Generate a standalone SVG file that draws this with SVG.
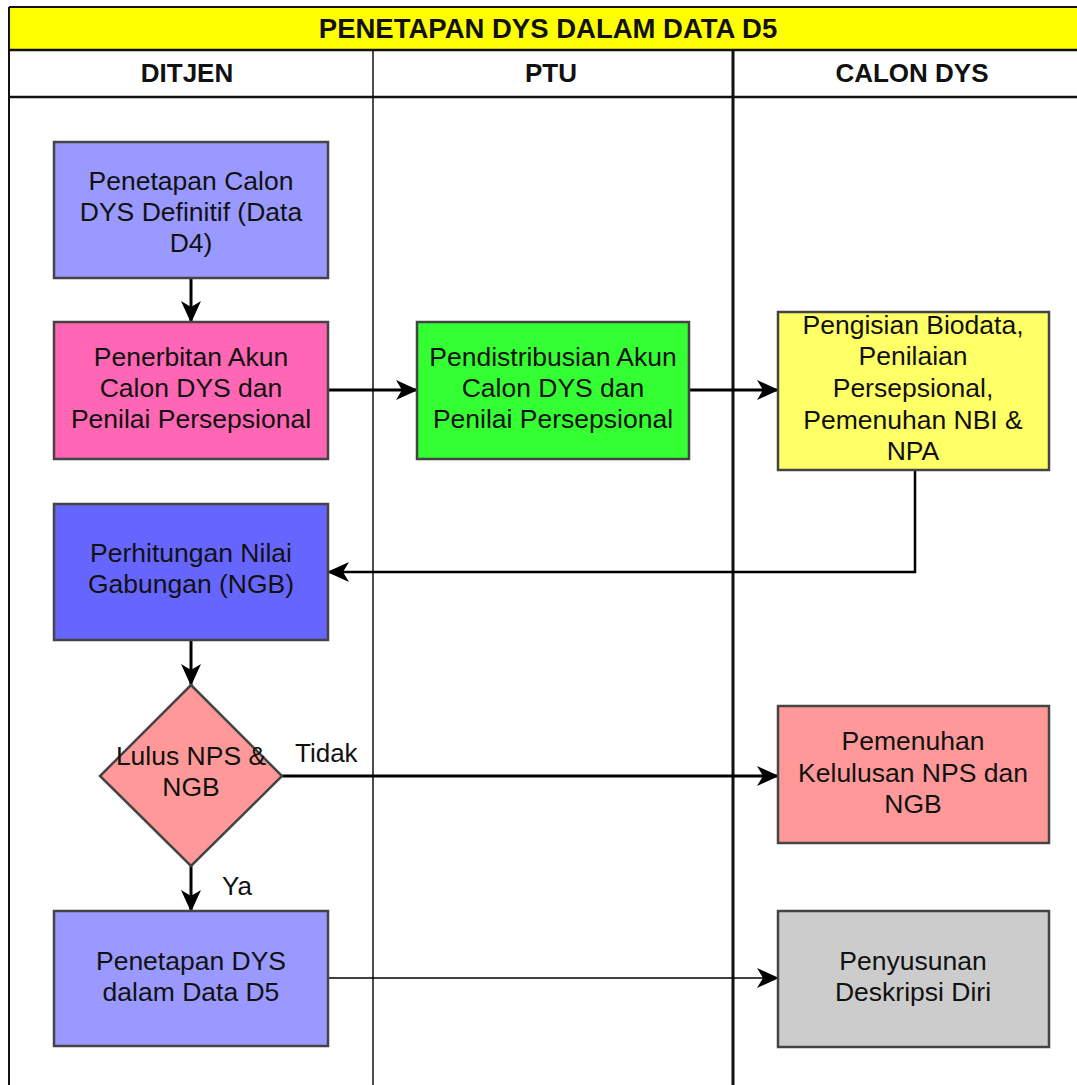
<svg xmlns="http://www.w3.org/2000/svg" width="1077" height="1085" viewBox="0 0 1077 1085">
<defs>
<style>
.lane{stroke:#111;fill:none}
.node{stroke:#444;stroke-width:2.5}
.t{font-family:"Liberation Sans",Arial,sans-serif;font-size:26.5px;fill:#111;text-anchor:middle}
.h{font-family:"Liberation Sans",Arial,sans-serif;font-size:26px;font-weight:bold;fill:#111;text-anchor:middle}
.title{font-size:27.5px}
.lbl{font-family:"Liberation Sans",Arial,sans-serif;font-size:26px;fill:#111}
.c{stroke:#000;stroke-width:3;fill:none}
.c2{stroke:#000;stroke-width:1.6;fill:none}
</style>
<marker id="ah" markerUnits="userSpaceOnUse" markerWidth="22" markerHeight="22" refX="21" refY="11" orient="auto" viewBox="0 0 22 22">
<path d="M0,1 L22,11 L0,21 L6,11 Z" fill="#000"/>
</marker>
</defs>
<rect width="1077" height="1085" fill="#fff"/>
<g id="pool">
<rect x="9" y="7" width="1068" height="43" fill="#FFFF00"/>
<line class="lane" x1="9" y1="7" x2="1077" y2="7" stroke-width="2"/>
<line class="lane" x1="9" y1="50" x2="1077" y2="50" stroke-width="2.5"/>
<line class="lane" x1="9" y1="97" x2="1077" y2="97" stroke-width="2.5"/>
<line class="lane" x1="9" y1="7" x2="9" y2="1085" stroke-width="2"/>
<line class="lane" x1="373" y1="50" x2="373" y2="1085" stroke-width="1.5"/>
<line class="lane" x1="733" y1="50" x2="733" y2="1085" stroke-width="3"/>
<text class="h title" x="548" y="38">PENETAPAN DYS DALAM DATA D5</text>
<text class="h" x="187" y="82">DITJEN</text>
<text class="h" x="551" y="82">PTU</text>
<text class="h" x="912" y="82">CALON DYS</text>
</g>
<g id="connectors">
<line class="c" x1="191" y1="278" x2="191" y2="322" marker-end="url(#ah)"/>
<line class="c" x1="328" y1="390" x2="417" y2="390" marker-end="url(#ah)"/>
<line class="c" x1="689" y1="390" x2="778" y2="390" marker-end="url(#ah)"/>
<polyline class="c2" points="915,470 915,572 328,572" marker-end="url(#ah)" style="stroke-width:2.5"/>
<line class="c" x1="191" y1="640" x2="191" y2="685" marker-end="url(#ah)"/>
<line class="c" x1="282" y1="776" x2="778" y2="776" marker-end="url(#ah)"/>
<line class="c" x1="191" y1="866" x2="191" y2="911" marker-end="url(#ah)"/>
<line class="c2" x1="328" y1="978" x2="778" y2="978" marker-end="url(#ah)"/>
<text class="lbl" x="295" y="762">Tidak</text>
<text class="lbl" x="222" y="895">Ya</text>
</g>
<g id="n1">
<rect class="node" x="54" y="142" width="274" height="136" fill="#9999FF"/>
<text class="t" x="191" y="190">Penetapan Calon</text>
<text class="t" x="191" y="221">DYS Definitif (Data</text>
<text class="t" x="191" y="252">D4)</text>
</g>
<g id="n2">
<rect class="node" x="54" y="322" width="274" height="137" fill="#FF66B3"/>
<text class="t" x="191" y="366">Penerbitan Akun</text>
<text class="t" x="191" y="397">Calon DYS dan</text>
<text class="t" x="191" y="428">Penilai Persepsional</text>
</g>
<g id="n3">
<rect class="node" x="417" y="322" width="272" height="137" fill="#33FF33"/>
<text class="t" x="553" y="366">Pendistribusian Akun</text>
<text class="t" x="553" y="397">Calon DYS dan</text>
<text class="t" x="553" y="428">Penilai Persepsional</text>
</g>
<g id="n4">
<rect class="node" x="778" y="312" width="271" height="158" fill="#FFFF66"/>
<text class="t" x="913" y="334">Pengisian Biodata,</text>
<text class="t" x="913" y="365">Penilaian</text>
<text class="t" x="913" y="397">Persepsional,</text>
<text class="t" x="913" y="429">Pemenuhan NBI &amp;</text>
<text class="t" x="913" y="460">NPA</text>
</g>
<g id="n5">
<rect class="node" x="54" y="504" width="274" height="136" fill="#6666FF"/>
<text class="t" x="191" y="562">Perhitungan Nilai</text>
<text class="t" x="191" y="593">Gabungan (NGB)</text>
</g>
<g id="n6">
<polygon class="node" points="191,685 282,776 191,866 100,776" fill="#FF9999"/>
<text class="t" x="191" y="765">Lulus NPS &amp;</text>
<text class="t" x="191" y="796">NGB</text>
</g>
<g id="n7">
<rect class="node" x="54" y="911" width="274" height="135" fill="#9999FF"/>
<text class="t" x="191" y="970">Penetapan DYS</text>
<text class="t" x="191" y="1001">dalam Data D5</text>
</g>
<g id="n8">
<rect class="node" x="778" y="706" width="271" height="137" fill="#FF9999"/>
<text class="t" x="913" y="750">Pemenuhan</text>
<text class="t" x="913" y="782">Kelulusan NPS dan</text>
<text class="t" x="913" y="813">NGB</text>
</g>
<g id="n9">
<rect class="node" x="778" y="911" width="271" height="136" fill="#CCCCCC"/>
<text class="t" x="913" y="970">Penyusunan</text>
<text class="t" x="913" y="1001">Deskripsi Diri</text>
</g>
</svg>
